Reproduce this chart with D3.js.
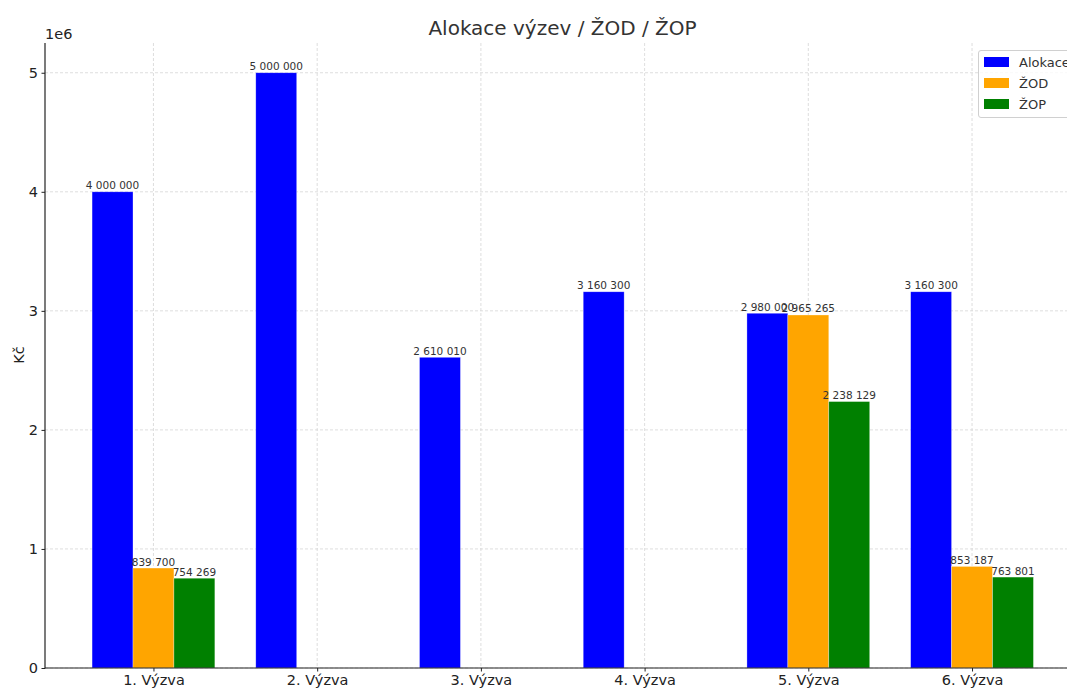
<!DOCTYPE html>
<html><head><meta charset="utf-8">
<script src="https://cdn.jsdelivr.net/npm/d3@7"></script>
<style>body{margin:0;background:#fff}svg{display:block;font-family:"DejaVu Sans",sans-serif}</style>
</head><body><svg id="c" width="1067" height="690"></svg>
<script>
const categories = ["1. Výzva","2. Výzva","3. Výzva","4. Výzva","5. Výzva","6. Výzva"];
const alokace = [4000000, 5000000, 2610010, 3160300, 2980000, 3160300];
const zod = [839700, null, null, null, 2965265, 853187];
const zop = [754269, null, null, null, 2238129, 763801];
const seriesNames = ["Alokace","ŽOD","ŽOP"];
const colors = ["#0000ff","#ffa500","#008000"];
const yTicks = [0,1,2,3,4,5];

(function(){
const svg = d3.select("#c");
const mLeft = 45, mBottom = 668, mTop = 43;
const idx = d3.range(categories.length);
const x = d3.scaleLinear().domain([-0.6625, 5.6625]).range([mLeft, 1080.5]);
const y = d3.scaleLinear().domain([0, 5.25e6]).range([mBottom, mTop]);
const bw = 0.25;

const g = svg.append("g");
g.selectAll("line.gy").data(yTicks).join("line")
  .attr("x1", mLeft).attr("x2", 1080).attr("y1", d=>y(d*1e6)).attr("y2", d=>y(d*1e6))
  .attr("stroke","#d6d6d6").attr("stroke-dasharray","3,2").attr("stroke-width",0.8);
g.selectAll("line.gx").data(idx).join("line")
  .attr("x1", d=>x(d)).attr("x2", d=>x(d)).attr("y1", mTop).attr("y2", mBottom)
  .attr("stroke","#d6d6d6").attr("stroke-dasharray","3,2").attr("stroke-width",0.8);

const fmt = v => d3.format(",")(v).replace(/,/g," ");
const series = [alokace, zod, zop];
series.forEach((vals, s) => {
  const off = (s-1)*bw;
  const data = idx.filter(i => vals[i] != null).map(i => ({i, v: vals[i]}));
  svg.append("g").selectAll("rect").data(data).join("rect")
    .attr("x", d => x(d.i+off-bw/2)).attr("width", x(bw)-x(0))
    .attr("y", d => y(d.v)).attr("height", d => y(0)-y(d.v))
    .attr("fill", colors[s]).attr("stroke","rgba(255,255,255,0.5)").attr("stroke-width",0.6);
  svg.append("g").selectAll("text").data(data).join("text")
    .attr("x", d => x(d.i+off)).attr("y", d => y(d.v)-2.5)
    .attr("text-anchor","middle").attr("font-size",10.5).attr("fill","#333")
    .text(d => fmt(d.v));
});

const ax = svg.append("g").attr("transform",`translate(0,${mBottom})`)
  .call(d3.axisBottom(x).tickValues(idx).tickFormat(i=>categories[i]).tickSize(3.5).tickPadding(3.5));
ax.select(".domain").remove();
ax.selectAll("text").attr("font-size",14.5).attr("fill","#222").attr("font-family","DejaVu Sans");
ax.selectAll("line").attr("stroke","#222");
const ay = svg.append("g").attr("transform",`translate(${mLeft},0)`)
  .call(d3.axisLeft(y).tickValues(yTicks.map(t=>t*1e6)).tickFormat(d=>d/1e6).tickSize(3.5).tickPadding(3.5));
ay.select(".domain").remove();
ay.selectAll("text").attr("font-size",14.5).attr("fill","#222").attr("font-family","DejaVu Sans");
ay.selectAll("line").attr("stroke","#222");
svg.append("line").attr("x1",mLeft).attr("x2",mLeft).attr("y1",mTop).attr("y2",mBottom+0.5).attr("stroke","#222").attr("stroke-width",1.2);
svg.append("line").attr("x1",mLeft).attr("x2",1080).attr("y1",mBottom).attr("y2",mBottom).attr("stroke","#222").attr("stroke-width",1.2);

svg.append("text").attr("x",mLeft).attr("y",39).attr("font-size",14.5).attr("fill","#222").text("1e6");
svg.append("text").attr("transform","translate(24,355) rotate(-90)").attr("text-anchor","middle")
  .attr("font-size",14.5).attr("fill","#222").text("Kč");
svg.append("text").attr("x",562.5).attr("y",35).attr("text-anchor","middle")
  .attr("font-size",20).attr("fill","#333").text("Alokace výzev / ŽOD / ŽOP");

const lg = svg.append("g");
lg.append("rect").attr("x",978.5).attr("y",50.5).attr("width",110).attr("height",67).attr("rx",2.5)
  .attr("fill","#fff").attr("fill-opacity",0.8).attr("stroke","#d0d0d0");
seriesNames.forEach((n,k)=>{
  lg.append("rect").attr("x",984).attr("y",57+k*21).attr("width",25).attr("height",10).attr("fill",colors[k]);
  lg.append("text").attr("x",1019).attr("y",67+k*21).attr("font-size",13).attr("fill","#333").text(n);
});
})();
</script></body></html>
